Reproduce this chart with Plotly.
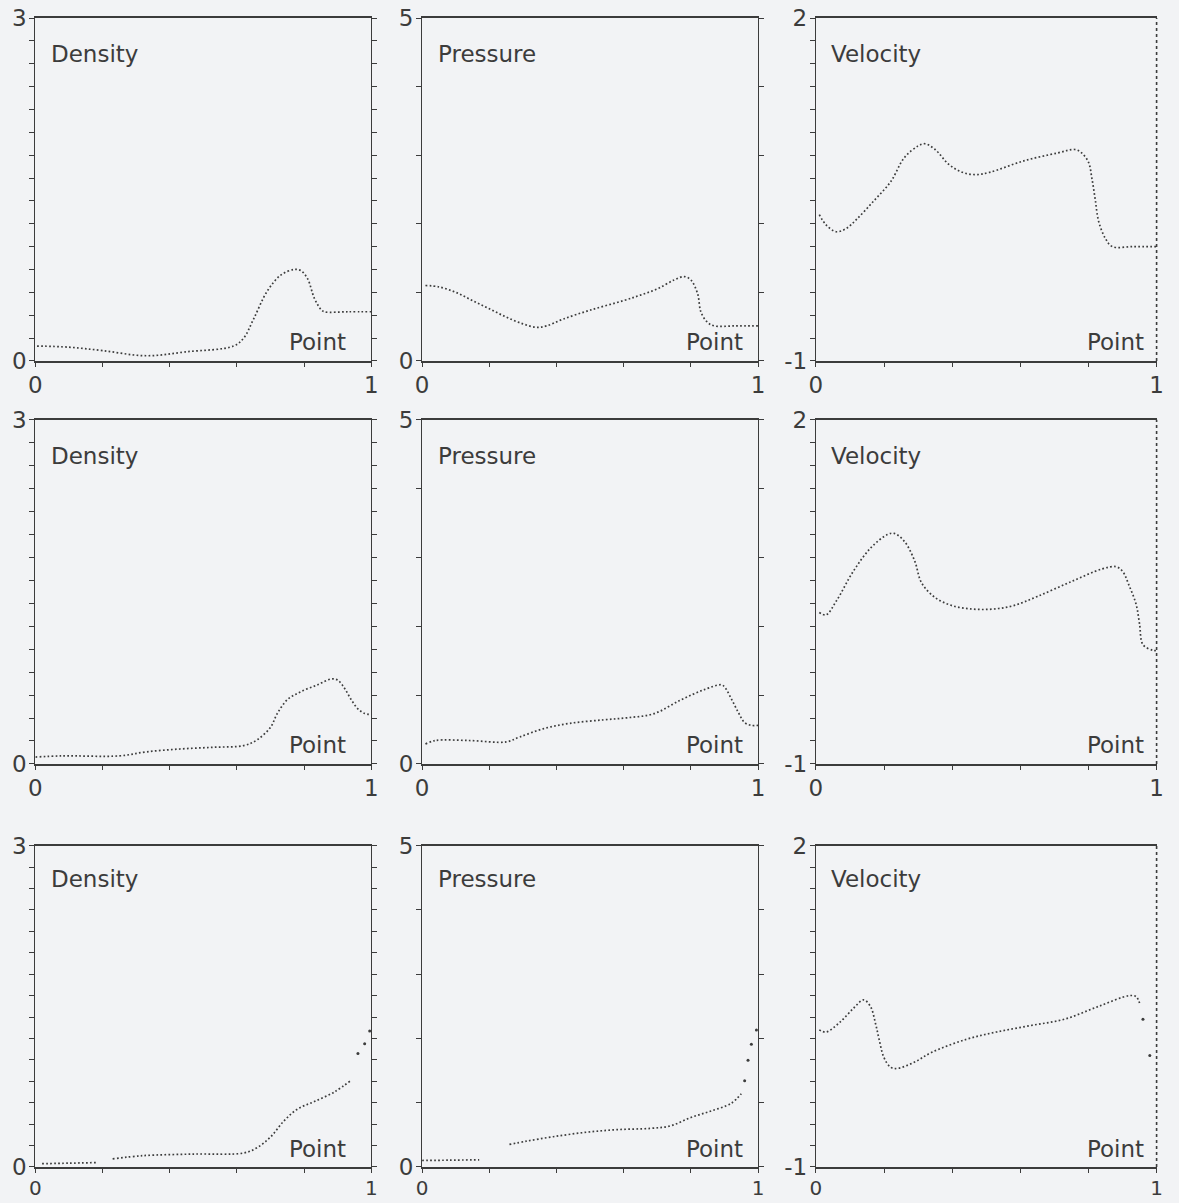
import plotly.graph_objects as go

# ---- row 1 ----
x_rho1 = [0.005, 0.10, 0.20, 0.33, 0.45, 0.59, 0.62, 0.65, 0.69, 0.73, 0.77, 0.79, 0.81, 0.83, 0.85, 0.86, 0.93, 1.0]
rho1 = [0.13, 0.12, 0.09, 0.045, 0.08, 0.13, 0.20, 0.37, 0.61, 0.75, 0.80, 0.79, 0.72, 0.55, 0.45, 0.43, 0.43, 0.43]

x_p1 = [0.01, 0.05, 0.10, 0.15, 0.20, 0.25, 0.30, 0.34, 0.37, 0.42, 0.50, 0.60, 0.65, 0.70, 0.75, 0.78, 0.80, 0.82, 0.83, 0.85, 0.87, 0.93, 1.0]
p1 = [1.10, 1.08, 1.00, 0.88, 0.76, 0.64, 0.54, 0.49, 0.51, 0.61, 0.74, 0.88, 0.96, 1.05, 1.18, 1.23, 1.18, 0.98, 0.71, 0.56, 0.51, 0.51, 0.51]

x_u1 = [0.01, 0.03, 0.06, 0.09, 0.12, 0.17, 0.22, 0.26, 0.30, 0.32, 0.35, 0.39, 0.43, 0.47, 0.51, 0.61, 0.71, 0.76, 0.78, 0.80, 0.81, 0.82, 0.83, 0.85, 0.87, 0.93, 1.0]
u1 = [0.28, 0.19, 0.13, 0.16, 0.24, 0.40, 0.57, 0.78, 0.88, 0.90, 0.85, 0.72, 0.65, 0.63, 0.65, 0.75, 0.82, 0.85, 0.82, 0.74, 0.60, 0.41, 0.22, 0.07, 0.0, 0.0, 0.0]

# ---- row 2 ----
x_rho2 = [0.0, 0.08, 0.25, 0.33, 0.43, 0.53, 0.62, 0.66, 0.70, 0.72, 0.75, 0.79, 0.84, 0.88, 0.90, 0.92, 0.94, 0.96, 0.98, 1.0]
rho2 = [0.06, 0.07, 0.07, 0.105, 0.13, 0.145, 0.16, 0.21, 0.32, 0.44, 0.56, 0.63, 0.69, 0.74, 0.73, 0.66, 0.56, 0.48, 0.44, 0.43]

x_p2 = [0.01, 0.04, 0.14, 0.25, 0.29, 0.36, 0.44, 0.54, 0.61, 0.69, 0.77, 0.84, 0.89, 0.90, 0.92, 0.94, 0.96, 0.98, 1.0]
p2 = [0.29, 0.34, 0.34, 0.32, 0.39, 0.51, 0.59, 0.64, 0.67, 0.73, 0.93, 1.08, 1.15, 1.12, 0.95, 0.76, 0.60, 0.56, 0.56]

x_u2 = [0.01, 0.03, 0.06, 0.11, 0.16, 0.21, 0.23, 0.26, 0.29, 0.31, 0.35, 0.40, 0.46, 0.52, 0.58, 0.65, 0.75, 0.84, 0.88, 0.90, 0.92, 0.94, 0.95, 0.96, 0.99, 1.0]
u2 = [0.32, 0.30, 0.42, 0.68, 0.88, 1.00, 1.01, 0.94, 0.77, 0.58, 0.45, 0.38, 0.35, 0.35, 0.38, 0.46, 0.59, 0.70, 0.72, 0.68, 0.55, 0.39, 0.22, 0.04, -0.01, -0.01]

# ---- row 3 ----
x_rho3 = [0.02, 0.10, 0.18, None, 0.23, 0.32, 0.47, 0.62, 0.66, 0.70, 0.74, 0.78, 0.83, 0.89, 0.94]
rho3 = [0.03, 0.035, 0.04, None, 0.075, 0.105, 0.12, 0.13, 0.18, 0.28, 0.43, 0.54, 0.61, 0.70, 0.81]
x_rho3_tail = [0.96, 0.98, 0.995]
rho3_tail = [1.06, 1.15, 1.27]

x_p3 = [0.0, 0.08, 0.17, None, 0.26, 0.31, 0.39, 0.49, 0.58, 0.68, 0.74, 0.80, 0.86, 0.92, 0.95]
p3 = [0.10, 0.105, 0.11, None, 0.35, 0.40, 0.47, 0.54, 0.58, 0.60, 0.64, 0.77, 0.87, 0.99, 1.14]
x_p3_tail = [0.96, 0.97, 0.98, 0.995]
p3_tail = [1.34, 1.66, 1.91, 2.13]

x_u3 = [0.01, 0.03, 0.07, 0.11, 0.14, 0.16, 0.175, 0.185, 0.20, 0.22, 0.24, 0.29, 0.34, 0.44, 0.53, 0.63, 0.73, 0.83, 0.92, 0.94, 0.95]
u3 = [0.28, 0.26, 0.35, 0.48, 0.56, 0.50, 0.34, 0.20, 0.02, -0.07, -0.08, -0.02, 0.07, 0.19, 0.26, 0.32, 0.38, 0.50, 0.60, 0.59, 0.53]
x_u3_tail = [0.96, 0.98]
u3_tail = [0.38, 0.04]

titles = ['Density', 'Pressure', 'Velocity']
yranges = [[0, 3], [0, 5], [-1, 2]]
ylabels = [['0', '3'], ['0', '5'], ['-1', '2']]
ydticks = [0.2, 1, 0.2]
point_x = [0.93, 0.96, 0.97]

col_dom = [[0.030, 0.315], [0.358, 0.643], [0.692, 0.981]]
row_dom = [[0.700, 0.985], [0.365, 0.651], [0.030, 0.297]]

curves = [
  [(x_rho1, rho1), (x_p1, p1), (x_u1, u1)],
  [(x_rho2, rho2), (x_p2, p2), (x_u2, u2)],
  [(x_rho3, rho3), (x_p3, p3), (x_u3, u3)],
]
tails = {(2, 0): (x_rho3_tail, rho3_tail), (2, 1): (x_p3_tail, p3_tail), (2, 2): (x_u3_tail, u3_tail)}

ink = '#3c3c3c'
bg = '#f2f3f5'
font = dict(family='DejaVu Sans', size=23, color=ink)
font_small = dict(family='DejaVu Sans', size=20, color=ink)

fig = go.Figure()
layout = {}
annots = []
shapes = []
n = 0
for r in range(3):
  for c in range(3):
    n += 1
    xa = 'x' if n == 1 else f'x{n}'
    ya = 'y' if n == 1 else f'y{n}'
    xs, ys = curves[r][c]
    fig.add_trace(go.Scatter(x=xs, y=ys, xaxis=xa, yaxis=ya, mode='lines',
                             line=dict(color=ink, width=1.7, dash='1.7px,2.3px', shape='spline'),
                             connectgaps=False, showlegend=False, hoverinfo='skip'))
    if (r, c) in tails:
      tx, ty = tails[(r, c)]
      fig.add_trace(go.Scatter(x=tx, y=ty, xaxis=xa, yaxis=ya, mode='markers',
                               marker=dict(color=ink, size=3), showlegend=False, hoverinfo='skip'))
    layout['xaxis' if n == 1 else f'xaxis{n}'] = dict(
      domain=col_dom[c], range=[0, 1], anchor=ya, showgrid=False, zeroline=False,
      showline=True, linewidth=2, linecolor=ink, mirror=True,
      tickmode='array', tickvals=[0, 1], ticktext=['0', '1'], ticks='outside', ticklen=2,
      tickcolor=ink, tickfont=font_small if r == 2 else font, automargin=False,
      minor=dict(dtick=0.2, tick0=0, ticks='outside', ticklen=4, tickcolor=ink))
    velo = (c == 2)
    layout['yaxis' if n == 1 else f'yaxis{n}'] = dict(
      domain=row_dom[r], range=yranges[c], anchor=xa, showgrid=False, zeroline=False,
      showline=True, linewidth=1.2, linecolor=ink, mirror=False if velo else 'allticks',
      tickmode='array', tickvals=yranges[c], ticktext=ylabels[c], ticks='outside', ticklen=3,
      tickcolor=ink, tickfont=font, automargin=False,
      minor=dict(dtick=ydticks[c], tick0=yranges[c][0], ticks='outside', ticklen=5, tickcolor=ink))
    if velo:
      # right edge of the velocity boxes is a dotted line in the scan
      shapes.append(dict(type='line', xref=f'{xa} domain', yref=f'{ya} domain',
                         x0=1, x1=1, y0=0, y1=1, line=dict(color=ink, width=1.6, dash='dot')))
    annots.append(dict(text=titles[c], xref=f'{xa} domain', yref=f'{ya} domain',
                       x=0.04, y=0.895, xanchor='left', yanchor='middle', showarrow=False, font=font))
    annots.append(dict(text='Point', xref=f'{xa} domain', yref=f'{ya} domain',
                       x=point_x[c], y=0.01, xanchor='right', yanchor='bottom', showarrow=False, font=font))

fig.update_layout(**layout)
fig.update_layout(width=1179, height=1203, margin=dict(l=0, r=0, t=0, b=0),
                  paper_bgcolor=bg, plot_bgcolor=bg,
                  annotations=annots, shapes=shapes, showlegend=False)
fig.write_html('out.html', config={'displayModeBar': False},
               post_script="document.body.style.margin='0';document.body.style.background='%s';"
                           "document.body.style.overflow='hidden';" % bg)
